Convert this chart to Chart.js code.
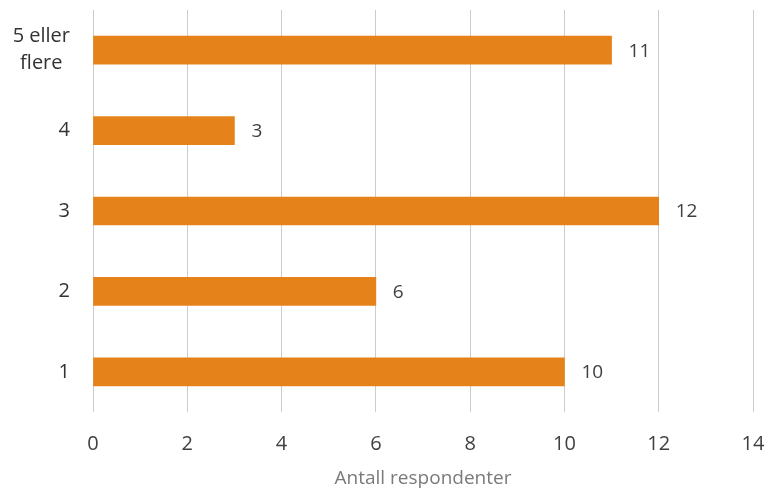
<!DOCTYPE html>
<html>
<head>
<meta charset="utf-8">
<script src="https://cdn.jsdelivr.net/npm/chart.js@4/dist/chart.umd.min.js"></script>
<style>
  html, body { margin: 0; padding: 0; background: #ffffff; }
  #wrap { width: 767px; height: 491px; position: relative; }
</style>
</head>
<body>
<div id="wrap"><canvas id="chart" width="767" height="491"></canvas></div>
<script>
// Antall respondenter per kategori
const categories = [['5 eller', 'flere'], '4', '3', '2', '1'];
const values = [11, 3, 12, 6, 10];
const xTicks = [0, 2, 4, 6, 8, 10, 12, 14];

const FONT = "'Open Sans', 'DejaVu Sans', sans-serif";
const BAR_COLOR = '#E5831A';

// Category labels on the left, each block right-aligned with its lines centred
const categoryLabels = {
  id: 'categoryLabels',
  afterDraw(chart) {
    const { ctx } = chart;
    const y = chart.scales.y;
    const rightEdge = 70;
    const lineH = 27;
    ctx.save();
    ctx.font = '20px ' + FONT;
    ctx.fillStyle = '#333333';
    ctx.textAlign = 'center';
    ctx.textBaseline = 'middle';
    categories.forEach((lab, i) => {
      const lines = Array.isArray(lab) ? lab : [lab];
      const w = Math.max(...lines.map(l => ctx.measureText(l).width));
      const cx = rightEdge - w / 2;
      const cy = y.getPixelForValue(i);
      const startY = cy - (lines.length - 1) * lineH / 2;
      lines.forEach((l, k) => ctx.fillText(l, cx, startY + k * lineH));
    });
    ctx.restore();
  }
};

// Value labels just past the end of each bar
const valueLabels = {
  id: 'valueLabels',
  afterDatasetsDraw(chart) {
    const { ctx } = chart;
    const meta = chart.getDatasetMeta(0);
    ctx.save();
    ctx.font = '19px ' + FONT;
    ctx.fillStyle = '#404040';
    ctx.textAlign = 'left';
    ctx.textBaseline = 'middle';
    meta.data.forEach((bar, i) => {
      ctx.fillText(String(values[i]), bar.x + 17, bar.y + 1);
    });
    ctx.restore();
  }
};

new Chart(document.getElementById('chart'), {
  type: 'bar',
  data: {
    labels: categories,
    datasets: [{
      data: values,
      backgroundColor: BAR_COLOR,
      borderWidth: 0,
      barThickness: 28
    }]
  },
  options: {
    indexAxis: 'y',
    responsive: false,
    animation: false,
    layout: { padding: { top: 10, right: 14, left: 0, bottom: 0 } },
    plugins: {
      legend: { display: false },
      tooltip: { enabled: false }
    },
    scales: {
      x: {
        min: 0,
        max: 14,
        afterBuildTicks(scale) {
          scale.ticks = xTicks.map(v => ({ value: v }));
        },
        afterFit(scale) {
          scale.height = 79;
          scale.paddingLeft = 0;
          scale.paddingRight = 0;
        },
        grid: { color: '#cccccc', lineWidth: 1, drawTicks: false },
        border: { display: false },
        ticks: {
          padding: 20,
          color: '#404040',
          font: { family: FONT, size: 20 }
        },
        title: {
          display: true,
          text: 'Antall respondenter',
          color: '#7a7a7a',
          font: { family: FONT, size: 19 },
          padding: { top: 0, bottom: 1 }
        }
      },
      y: {
        afterFit(scale) { scale.width = 93; },
        grid: { display: false },
        border: { display: false },
        ticks: { display: false }
      }
    }
  },
  plugins: [categoryLabels, valueLabels]
});
</script>
</body>
</html>
